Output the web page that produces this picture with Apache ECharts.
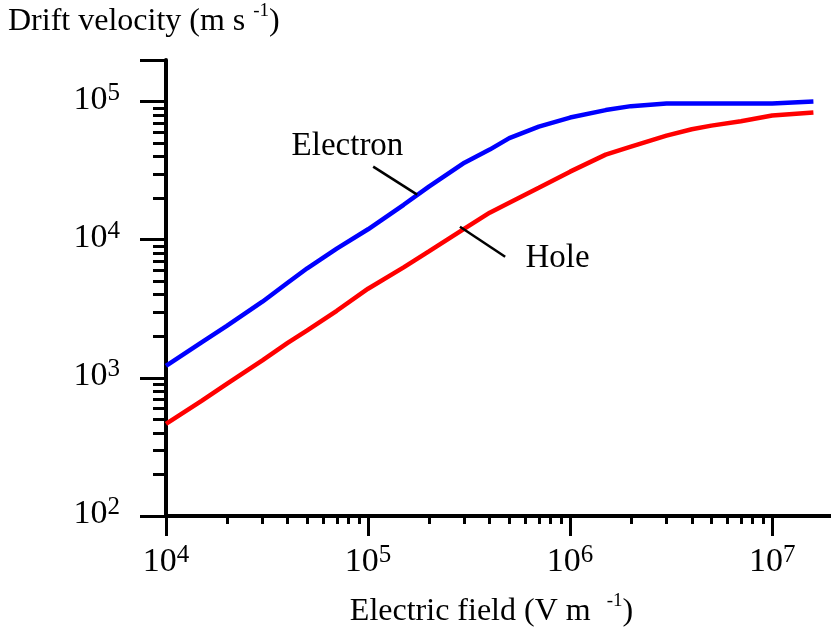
<!DOCTYPE html>
<html>
<head>
<meta charset="utf-8">
<title>Drift velocity vs electric field</title>
<script src="https://cdn.jsdelivr.net/npm/echarts@6/dist/echarts.min.js"></script>
<style>
html, body { margin: 0; padding: 0; background: #fff; }
#chart { width: 831px; height: 634px; }
</style>
</head>
<body>
<div id="chart"></div>
<script>
// electric field (V/m), shared by both curves
const fieldValues = [1e4, 1.5e4, 2e4, 3e4, 4e4, 5e4, 7e4, 1e5, 1.5e5, 2e5, 3e5, 4e5, 5e5, 7e5,
  1e6, 1.5e6, 2e6, 3e6, 4e6, 5e6, 7e6, 1e7, 1.6e7]
// drift velocity (m/s)
const electronVelocity = [1220, 1810, 2380, 3560, 4880, 6210, 8610, 11900, 17900, 24200, 36100, 44900, 54400, 65900,
  76600, 86800, 92700, 96800, 96800, 96800, 96800, 96800, 100000]
const holeVelocity = [464, 681, 905, 1340, 1790, 2210, 3060, 4420, 6300, 8230, 12020, 15700, 18530, 23800,
  31100, 41300, 47200, 56700, 63000, 67000, 72100, 79200, 83200]

const serif = 'Liberation Serif'

// 10^n labels for decades only
const decadeLabel = (value) => {
  const e = Math.log10(value)
  if (Math.abs(e - Math.round(e)) > 1e-6) return ''
  return '{b|10}{e|' + Math.round(e) + '}'
}
const labelRich = {
  b: { fontFamily: serif, fontSize: 34, lineHeight: 36, color: '#000', verticalAlign: 'bottom' },
  e: { fontFamily: serif, fontSize: 25, lineHeight: 25, color: '#000', verticalAlign: 'top' }
}
const nameRich = {
  a: { fontFamily: serif, fontSize: 32, fontWeight: 'normal', lineHeight: 36, color: '#000', verticalAlign: 'bottom' },
  s: { fontFamily: serif, fontSize: 19, fontWeight: 'normal', lineHeight: 20, color: '#000', verticalAlign: 'top' }
}

const axisCommon = {
  type: 'log',
  logBase: 10,
  axisLine: { onZero: false, lineStyle: { color: '#000', width: 4 } },
  splitLine: { show: false },
  minorSplitLine: { show: false },
  axisLabel: { formatter: decadeLabel, rich: labelRich, showMinLabel: true, showMaxLabel: true }
}

const chart = echarts.init(document.getElementById('chart'))

chart.setOption({
  animation: false,
  backgroundColor: '#fff',
  title: {
    text: '{a|Drift velocity (m s }{s|-1}{a|)}',
    left: 8,
    top: 2,
    padding: 0,
    textStyle: { fontWeight: 'normal', rich: nameRich }
  },
  grid: { left: 166, top: 60, width: 667, height: 456, outerBoundsMode: 'none' },
  xAxis: {
    ...axisCommon,
    min: 1e4,
    max: 2e7,
    axisTick: { length: 20, lineStyle: { color: '#000', width: 3 } },
    minorTick: { show: true, splitNumber: 9, length: 8, lineStyle: { color: '#000', width: 3 } },
    axisLabel: { ...axisCommon.axisLabel, margin: 27 },
    name: '{a|Electric field (V m  }{s|-1}{a|)}',
    nameLocation: 'middle',
    nameGap: 76,
    nameTextStyle: { rich: nameRich, padding: [0, 16, 0, 0] }
  },
  yAxis: {
    ...axisCommon,
    min: 100,
    max: 2e5,
    axisTick: { length: 26, lineStyle: { color: '#000', width: 3 } },
    minorTick: { show: true, splitNumber: 9, length: 13, lineStyle: { color: '#000', width: 3 } },
    axisLabel: { ...axisCommon.axisLabel, margin: 46, padding: [0, 0, 6, 0] }
  },
  series: [
    {
      name: 'Electron',
      type: 'line',
      symbol: 'none',
      data: fieldValues.map((x, i) => [x, electronVelocity[i]]),
      lineStyle: { color: '#0000ff', width: 4.5 },
      markLine: {
        silent: true,
        symbol: 'none',
        label: { show: false },
        lineStyle: { color: '#000', width: 2.5, type: 'solid' },
        data: [[{ coord: [1.06e5, 3.38e4] }, { coord: [1.75e5, 2.12e4] }]]
      },
      markPoint: {
        silent: true,
        symbol: 'circle',
        symbolSize: 0,
        label: { show: true, formatter: 'Electron', fontFamily: serif, fontSize: 33, color: '#000' },
        data: [{ coord: [79100, 47200] }]
      }
    },
    {
      name: 'Hole',
      type: 'line',
      symbol: 'none',
      data: fieldValues.map((x, i) => [x, holeVelocity[i]]),
      lineStyle: { color: '#ff0000', width: 4.5 },
      markLine: {
        silent: true,
        symbol: 'none',
        label: { show: false },
        lineStyle: { color: '#000', width: 2.5, type: 'solid' },
        data: [[{ coord: [2.85e5, 1.24e4] }, { coord: [4.77e5, 7530] }]]
      },
      markPoint: {
        silent: true,
        symbol: 'circle',
        symbolSize: 0,
        label: { show: true, formatter: 'Hole', fontFamily: serif, fontSize: 33, color: '#000' },
        data: [{ coord: [867000, 7345] }]
      }
    }
  ]
})
</script>
</body>
</html>
